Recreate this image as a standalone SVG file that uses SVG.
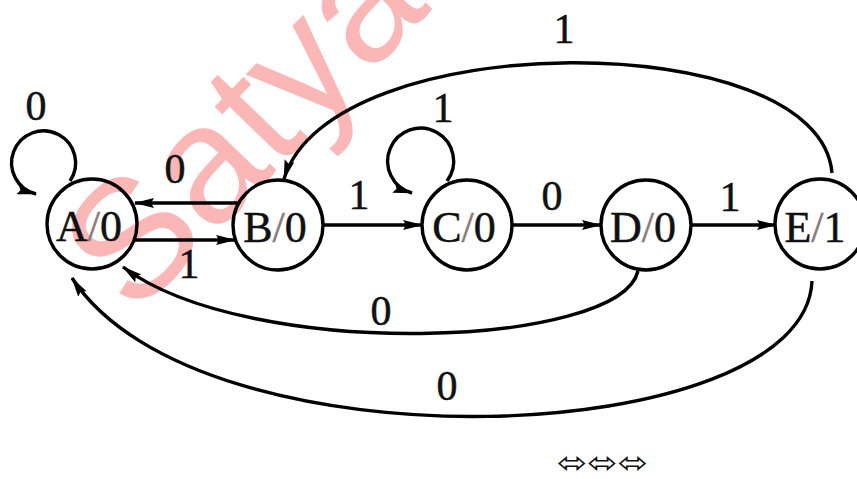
<svg xmlns="http://www.w3.org/2000/svg" width="857" height="479" viewBox="0 0 857 479">
  <style>
    .node circle { fill: none; stroke: #000; stroke-width: 3.4; }
    .node text { font-family: "Liberation Serif", "Times New Roman", serif; font-size: 44px; text-anchor: middle; fill: #111; stroke: #111; stroke-width: 0.5; }
    .node .sep { fill: #8a7a7a; stroke: #8a7a7a; }
    .edge { fill: none; stroke: #000; stroke-width: 3.4; marker-end: url(#head); }
    .lbl { font-family: "Liberation Serif", "Times New Roman", serif; font-size: 42px; text-anchor: middle; fill: #111; stroke: #111; stroke-width: 0.5; }
    .mark { font-family: "Liberation Sans", Arial, sans-serif; font-size: 168px; fill: #fbb6b6; }
  </style>
  <defs>
    <marker id="head" markerUnits="userSpaceOnUse" markerWidth="20" markerHeight="11" refX="19" refY="5.5" orient="auto">
      <path d="M0,0.5 L20,5.5 L0,10.5 L3,5.5 z" fill="#000"/>
    </marker>
  </defs>
  <rect width="857" height="479" fill="#fff"/>

  <!-- watermark -->
  <text class="mark" transform="translate(134 318) rotate(-46)">Satya</text>

  <!-- transitions -->
  <g id="connectors">
    <path class="edge" d="M70,181 A32,32 0 1 0 36,194"/>
    <path class="edge" d="M238,203 L135,203"/>
    <path class="edge" d="M135,240 L235,240"/>
    <path class="edge" d="M323,225 L422,225"/>
    <path class="edge" d="M447,181 A33,33 0 1 0 412,193"/>
    <path class="edge" d="M512,225 L601,225"/>
    <path class="edge" d="M691,225 L776,225"/>
    <path class="edge" d="M832,173 C820,25 330,25 284,179"/>
    <path class="edge" d="M638,271 C620,348 250,362 123,267"/>
    <path class="edge" d="M812,281 C805,450 200,474 72,278"/>

    <text class="lbl" x="36" y="120">0</text>
    <text class="lbl" x="175" y="183">0</text>
    <text class="lbl" x="189" y="278">1</text>
    <text class="lbl" x="359" y="209">1</text>
    <text class="lbl" x="443" y="122">1</text>
    <text class="lbl" x="552" y="210">0</text>
    <text class="lbl" x="730" y="211">1</text>
    <text class="lbl" x="564" y="43">1</text>
    <text class="lbl" x="381" y="325">0</text>
    <text class="lbl" x="447" y="400">0</text>
  </g>

  <!-- states -->
  <g id="A" class="node">
    <circle cx="92" cy="224" r="45"/>
    <text x="89" y="241">A<tspan class="sep">/</tspan>0</text>
  </g>
  <g id="B" class="node">
    <circle cx="278" cy="225" r="45"/>
    <text x="275" y="242">B<tspan class="sep">/</tspan>0</text>
  </g>
  <g id="C" class="node">
    <circle cx="467" cy="225" r="45"/>
    <text x="464" y="242">C<tspan class="sep">/</tspan>0</text>
  </g>
  <g id="D" class="node">
    <circle cx="646" cy="225" r="45"/>
    <text x="643" y="242">D<tspan class="sep">/</tspan>0</text>
  </g>
  <g id="E" class="node">
    <circle cx="820" cy="224" r="45"/>
    <text x="815" y="242">E<tspan class="sep">/</tspan>1</text>
  </g>

  <!-- ornament -->
  <text x="557" y="473" font-family="DejaVu Sans, sans-serif" font-size="30" textLength="91" lengthAdjust="spacingAndGlyphs" fill="#111">⬄⬄⬄</text>
</svg>
